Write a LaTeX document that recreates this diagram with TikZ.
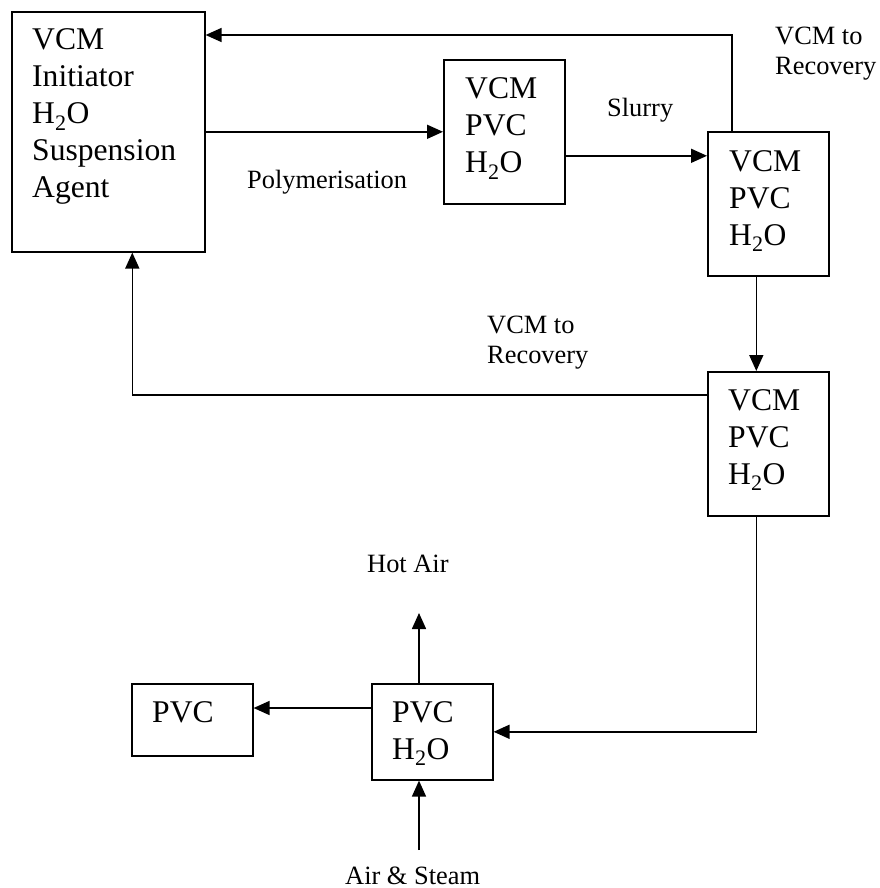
\documentclass[tikz,border=0pt]{standalone}
\usepackage{fontspec}
\setmainfont{Liberation Serif}
\usetikzlibrary{arrows.meta,calc}
\newcommand\bxtext[1]{\begin{tabular}[t]{@{}l@{}}#1\end{tabular}}
\begin{document}
\begin{tikzpicture}[x=1pt,y=-1pt,
  bx/.style={draw, line width=1.6pt, anchor=north west, inner sep=0pt},
  btxt/.style={anchor=base west, inner sep=0pt, font=\fontsize{31.6}{37}\selectfont},
  ltxt/.style={anchor=base west, inner sep=0pt, font=\fontsize{26.4}{30}\selectfont},
  arr/.style={line width=1.6pt, -{Triangle[length=16pt,width=14pt]}}]
\useasboundingbox (0,0) rectangle (879,888);
% boxes
\node[bx, minimum width=193pt, minimum height=240pt] (b1) at (11,11) {};
\node[bx, minimum width=121pt, minimum height=144pt] (b2) at (443,59) {};
\node[bx, minimum width=121pt, minimum height=144pt] (b3) at (707,131) {};
\node[bx, minimum width=121pt, minimum height=144pt] (b4) at (707,371) {};
\node[bx, minimum width=121pt, minimum height=96pt] (b5) at (371,683) {};
\node[bx, minimum width=121pt, minimum height=72pt] (b6) at (131,683) {};
% box texts
\node[btxt] (t1) at (32,50) {\bxtext{VCM\\Initiator\\H\textsubscript{2}O\\Suspension\\Agent}};
\node[btxt] (t2) at (465,99) {\bxtext{VCM\\PVC\\H\textsubscript{2}O}};
\node[btxt] (t3) at (729,171) {\bxtext{VCM\\PVC\\H\textsubscript{2}O}};
\node[btxt] (t4) at (728,410) {\bxtext{VCM\\PVC\\H\textsubscript{2}O}};
\node[btxt] (t5) at (392,722) {\bxtext{PVC\\H\textsubscript{2}O}};
\node[btxt] (t6) at (152,722) {PVC};
% labels
\node[ltxt] (l1) at (775,45) {\bxtext{VCM to\\Recovery}};
\node[ltxt] (l2) at (607,117) {Slurry};
\node[ltxt] (l3) at (247,188) {Polymerisation};
\node[ltxt] (l4) at (487,333) {\bxtext{VCM to\\Recovery}};
\node[ltxt] (l5) at (367,572) {Hot Air};
\node[ltxt] (l6) at (345,884) {Air \& Steam};
% connectors
\draw[arr] ([xshift=25pt]b3.north west) |- ([yshift=-24pt]b1.north east);
\draw[arr] (b1.east) -- (b2.west);
\draw[arr] ([yshift=-24pt]b2.east) -- ([yshift=-24pt]b2.east -| b3.west);
\draw[arr] ([xshift=-12pt]b3.south) -- ([xshift=-12pt]b4.north);
\draw[arr] ([yshift=-24pt]b4.north west) -| ([xshift=24pt]b1.south);
\draw[arr] ([xshift=-12pt]b4.south) |- (b5.east);
\draw[arr] ([yshift=-25pt]b5.north west) -- ([yshift=-25pt]b5.north west -| b6.east);
\coordinate (hotend) at (419,613);
\coordinate (steamstart) at (419,850);
\draw[arr] ([xshift=48pt]b5.north west) -- (hotend);
\draw[arr] (steamstart) -- ([xshift=48pt]b5.south west);
\end{tikzpicture}
\end{document}
